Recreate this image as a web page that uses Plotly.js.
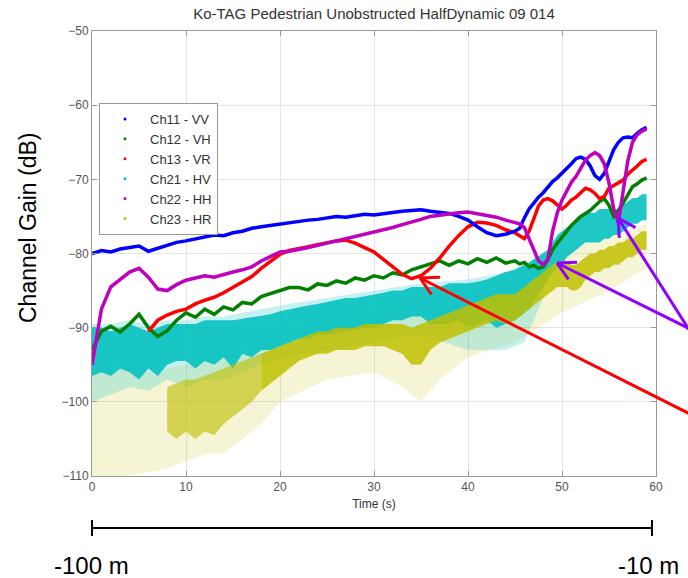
<!DOCTYPE html>
<html>
<head>
<meta charset="utf-8">
<script src="https://cdn.plot.ly/plotly-3.0.1.min.js"></script>
<style>html,body{margin:0;padding:0;background:#fff;}#chart{width:688px;height:578px;}</style>
</head>
<body>
<div id="chart"></div>
<script>
// ---------- data ----------
const chartTitle = 'Ko-TAG Pedestrian Unobstructed HalfDynamic 09 014';
const seriesNames = ['Ch11 - VV','Ch12 - VH','Ch13 - VR','Ch21 - HV','Ch22 - HH','Ch23 - HR'];
const xTicks = [0,10,20,30,40,50,60];
const yTicks = [-110,-100,-90,-80,-70,-60,-50];

const tA = [0,1,2,3,4,5,6,7,8,9,10,11,12,13,14,15,16,17,18,19,20,21,22,23,24,25,26,27,28,29,30,31,32,33,34,35,36,37,38,39,40,41,42,43,44,45,
  45.5,46,46.5,47,47.5,48,48.5,49,49.5,50,50.5,51,51.5,52,52.5,53,53.5,54,54.5,55,55.5,56,56.5,57,57.5,58,58.5,59];

const ch11 = [-80.0,-79.6,-79.8,-79.4,-79.2,-79.0,-79.7,-79.3,-78.8,-78.5,
  -78.3,-78.0,-77.8,-77.5,-77.6,-77.2,-77.0,-76.6,-76.4,-76.2,
  -76.0,-75.8,-75.7,-75.5,-75.4,-75.2,-75.0,-75.1,-74.9,-74.7,
  -74.8,-74.6,-74.4,-74.3,-74.2,-74.1,-74.3,-74.4,-74.6,-75.0,
  -75.5,-76.4,-77.2,-77.6,-77.4,-77.0,
  -76.6,-75.2,-74.0,-73.2,-72.4,-71.8,-71.0,-70.3,-69.8,-69.2,-68.6,-67.9,-67.2,-67.0,-67.3,-68.2,-69.5,-70.0,-69.2,-67.5,-66.0,-65.0,-64.4,-64.3,-64.4,-63.8,-63.3,-63.0];

const ch12 = [-93.0,-90.5,-89.8,-90.6,-89.5,-88.2,-90.0,-91.2,-90.4,-89.0,
  -88.0,-88.6,-87.5,-88.2,-87.2,-87.6,-86.6,-86.8,-85.8,-85.4,
  -85.0,-84.6,-84.6,-84.9,-84.1,-84.3,-83.7,-84.0,-83.3,-83.6,
  -83.0,-83.3,-82.6,-82.9,-82.2,-81.8,-81.3,-81.0,-81.6,-81.0,
  -81.4,-80.7,-81.2,-80.6,-81.3,-81.0,
  -81.4,-81.2,-81.8,-81.6,-82.0,-81.8,-80.8,-79.5,-78.6,-77.8,-77.0,-76.2,-75.6,-75.0,-74.6,-74.2,-73.6,-73.0,-72.6,-73.5,-75.0,-74.2,-73.2,-72.2,-71.0,-70.6,-70.1,-69.8];

const ch13 = [null,null,null,null,null,null,-90.5,-89.0,-88.3,-87.8,
  -87.5,-86.8,-86.3,-85.9,-85.3,-84.6,-83.9,-83.1,-82.0,-81.0,
  -80.1,-79.6,-79.4,-79.1,-78.8,-78.5,-78.3,-78.2,-78.6,-79.2,
  -79.8,-80.8,-81.8,-82.8,-83.4,-83.0,-82.0,-80.6,-79.0,-77.6,
  -76.4,-75.8,-75.9,-76.2,-76.8,-77.2,
  -77.6,-78.0,-77.0,-75.2,-73.6,-72.8,-72.6,-72.9,-73.5,-74.0,-73.5,-72.8,-72.4,-71.8,-71.2,-71.4,-71.9,-72.6,-72.3,-71.2,-70.8,-70.5,-70.1,-69.3,-68.8,-68.2,-67.6,-67.3];

const ch21Hi = [-90,-90,-90.5,-90,-89.5,-90,-90.5,-90,-89.5,-89.5,
  -89.5,-89.5,-89,-89,-89,-89,-88.8,-88.6,-88.4,-88.2,
  -87.8,-87.5,-87.2,-87,-86.8,-86.5,-86.3,-86,-86,-85.8,
  -85.5,-85.3,-85,-85,-84.5,-84.5,-84.5,-84.5,-84,-84,
  -84,-83.8,-83.5,-83,-82.5,-82.2,
  -81.8,-81.5,-81.2,-80.8,-80.4,-80,-79.5,-78.5,-77.5,-77,-76.5,-76,-75.5,-75,-74.5,-74.5,-74.5,-74,-74,-74,-74,-74,-73.5,-73,-72.5,-72.5,-72,-72];
const ch21Lo = [-96.5,-96,-96.5,-95.5,-96,-97,-95.5,-96.5,-95,-94.5,
  -94.5,-95.5,-94.5,-95,-94,-95.5,-93.5,-94,-93,-93,
  -92.5,-92,-91.5,-91.5,-91,-91,-90.8,-90.5,-90.2,-90,
  -90,-89.5,-89,-89,-88.5,-88.5,-89.5,-89.5,-89.5,-89,
  -90,-89.5,-89,-90,-89.5,-89,
  -88.5,-88,-87.5,-86.5,-85.5,-84.5,-83.5,-82.5,-82,-81.5,-80.5,-80,-79.5,-79,-78.5,-78.5,-78.5,-78.5,-78,-78,-77.5,-77.5,-77,-76.5,-76,-76,-75.5,-75.5];
const ch21SparseT  = [0,2,4,6,8,10,12,14,16,18,20,25,30,35,40,44,46,48];
const ch21SparseHi = [-89.5,-89.5,-89,-89.5,-89,-89,-88.5,-88.5,-88,-87.5,-87,-86,-85,-84,-83.5,-82.5,-81.5,-80];
const ch21SparseLo = [-100,-99,-98,-98.5,-97,-98,-97,-97,-96,-95,-94,-93,-92,-91,-93,-93,-92,-86];

const ch22 = [-95.0,-87.5,-84.5,-83.5,-82.5,-82.0,-83.2,-84.8,-85.0,-84.2,
  -83.6,-83.3,-83.0,-83.2,-82.8,-82.5,-82.2,-81.8,-81.0,-80.4,
  -79.8,-79.7,-79.5,-79.2,-78.9,-78.6,-78.4,-78.0,-77.8,-77.4,
  -77.2,-76.8,-76.5,-76.1,-75.8,-75.4,-75.0,-74.8,-74.6,-74.5,
  -74.4,-74.6,-74.9,-75.1,-75.5,-75.8,
  -76.0,-76.5,-78.0,-79.8,-81.0,-81.5,-80.8,-77.0,-74.5,-72.8,-71.6,-70.4,-69.6,-68.5,-67.4,-66.8,-66.4,-66.8,-67.9,-70.5,-74.0,-75.8,-72.0,-67.5,-65.0,-64.0,-63.5,-63.2];

const ch23T = tA.slice(8);
const ch23Hi = [-98,-97.5,
  -97,-97,-96.5,-96,-95.5,-95,-94.5,-94,-93.5,-93,
  -92.5,-92,-91.5,-91,-90.5,-90.5,-90,-90,-90,-89.5,
  -89.5,-89.5,-89.5,-89.5,-90,-89.5,-89,-88.5,-88,-87.5,
  -87,-86.5,-86,-85.5,-85.5,-85.5,
  -85,-84.5,-84,-83.5,-83,-82.5,-82,-81.5,-81,-81,-81,-81.5,-81.5,-81,-80.5,-80,-80,-79.5,-79.5,-79,-79,-78.5,-78.5,-78,-78,-77.5,-77,-77];
const ch23Lo = [-104,-105,
  -104,-105,-104,-104.5,-103,-102,-101,-100,-98.5,-97.5,
  -96.5,-95.5,-94.5,-94,-93.5,-93.5,-93,-93,-93,-92.5,
  -92.5,-92.5,-93,-93.5,-95,-95,-93,-92,-91.5,-91,
  -90.5,-90,-89.5,-89,-89.5,-89,
  -88.5,-88,-87.5,-87,-86.5,-86,-85.5,-85,-84.5,-84.5,-84.5,-85,-85,-84.5,-83.5,-83,-82.5,-82.5,-82,-82,-81.5,-81.5,-81,-80.5,-80.5,-80,-79.5,-79.5];
const ch23SparseT  = [0,2,4,6,8,10,12,14,16,18,20,25,30,33,35,37,40,45,50,55,59];
const ch23SparseHi = [-94,-95,-95.5,-96,-95.5,-95,-94.5,-94,-93,-92,-91,-88.5,-88,-88,-88,-87.5,-86.5,-84,-80,-77.5,-76];
const ch23SparseLo = [-110,-110,-110,-109.5,-109,-108,-107,-107,-105,-103,-100,-97,-96,-98,-100,-97,-94,-92,-88,-85,-82];

// ---------- styling ----------
const COL = {b:'#0000ff', g:'#008000', r:'#ff0000', c:'#00bfbf', m:'#bf00bf', y:'#bfbf00'};
const legendColors = [COL.b, COL.g, COL.r, COL.c, COL.m, COL.y];
const W = 688, H = 578, L = 92, R = 656, T = 31, B = 476;
const px = x => (x - L) / (R - L);
const py = y => (B - y) / (B - T);

function rgba(hex, a) {
  const n = parseInt(hex.slice(1), 16);
  return 'rgba(' + (n >> 16 & 255) + ',' + (n >> 8 & 255) + ',' + (n & 255) + ',' + a + ')';
}
function band(x, hi, lo, color) {
  return [
    {x: x, y: hi, mode: 'lines', line: {width: 0, color: color}, showlegend: false, hoverinfo: 'skip'},
    {x: x, y: lo, mode: 'lines', line: {width: 0, color: color}, fill: 'tonexty', fillcolor: color, showlegend: false, hoverinfo: 'skip'}
  ];
}
function line(x, y, color, w) {
  return {x: x, y: y, mode: 'lines', line: {color: color, width: w}, showlegend: false, hoverinfo: 'skip'};
}

const split = 11; // early, more scattered part of Ch23
const traces = [];
traces.push(...band(ch23SparseT, ch23SparseHi, ch23SparseLo, rgba(COL.y, 0.16)));
traces.push(...band(ch21SparseT, ch21SparseHi, ch21SparseLo, rgba(COL.c, 0.22)));
traces.push(...band(tA, ch21Hi, ch21Lo, rgba(COL.c, 0.88)));
traces.push(...band(ch23T.slice(0, split), ch23Hi.slice(0, split), ch23Lo.slice(0, split), rgba(COL.y, 0.62)));
traces.push(...band(ch23T.slice(split - 1), ch23Hi.slice(split - 1), ch23Lo.slice(split - 1), rgba(COL.y, 0.85)));
traces.push(line(tA, ch12, COL.g, 3.5));
traces.push(line(tA, ch13, COL.r, 3.5));
traces.push(line(tA, ch11, COL.b, 3.5));
traces.push(line(tA, ch22, COL.m, 3.5));
seriesNames.forEach((n, i) => traces.push({
  x: [null], y: [null], mode: 'markers', name: n,
  marker: {color: legendColors[i], size: 3, symbol: 'circle'}
}));

// arrows (open chevron heads)
function arrow(tip, tail, color) {
  const ang = Math.atan2(tail[1] - tip[1], tail[0] - tip[0]);
  const ln = (a, b) => ({type: 'line', xref: 'paper', yref: 'paper', x0: px(a[0]), y0: py(a[1]), x1: px(b[0]), y1: py(b[1]), line: {color: color, width: 3}});
  const s = [ln(tail, tip)];
  [-0.5, 0.5].forEach(d => {
    const a = ang + d;
    s.push(ln(tip, [tip[0] + 20 * Math.cos(a), tip[1] + 20 * Math.sin(a)]));
  });
  return s;
}
const shapes = [
  ...arrow([420, 278], [700, 419], '#ff0000'),
  ...arrow([557, 263], [700, 334], '#8f00ff'),
  ...arrow([618, 218], [695, 339], '#8f00ff'),
  {type: 'line', xref: 'paper', yref: 'paper', x0: px(92), y0: py(528), x1: px(652), y1: py(528), line: {color: '#000', width: 2}},
  {type: 'line', xref: 'paper', yref: 'paper', x0: px(92), y0: py(520), x1: px(92), y1: py(536), line: {color: '#000', width: 2}},
  {type: 'line', xref: 'paper', yref: 'paper', x0: px(652), y0: py(520), x1: px(652), y1: py(536), line: {color: '#000', width: 2}}
];

const annotations = [
  {text: 'Channel Gain (dB)', xref: 'paper', yref: 'paper', x: px(28), y: py(228), showarrow: false, textangle: -90,
   font: {family: 'Arial, Liberation Sans', size: 23, color: '#000'}, xanchor: 'center', yanchor: 'middle'},
  {text: '-100 m', xref: 'paper', yref: 'paper', x: px(91), y: py(565), showarrow: false,
   font: {family: 'Arial, Liberation Sans', size: 24, color: '#000'}, xanchor: 'center', yanchor: 'middle'},
  {text: '-10 m', xref: 'paper', yref: 'paper', x: px(648), y: py(565), showarrow: false,
   font: {family: 'Arial, Liberation Sans', size: 24, color: '#000'}, xanchor: 'center', yanchor: 'middle'}
];

const axisCommon = {
  ticks: 'inside', ticklen: 5, tickcolor: '#999', showline: true, linecolor: '#999', linewidth: 1,
  mirror: 'ticks', showgrid: true, gridcolor: '#e4e4e4', zeroline: false,
  tickfont: {family: 'Arial, Liberation Sans', size: 12, color: '#555'}
};

const layout = {
  width: W, height: H, margin: {l: L, r: W - R, t: T, b: H - B},
  paper_bgcolor: '#fff', plot_bgcolor: '#fff',
  title: {text: chartTitle, font: {family: 'Arial, Liberation Sans', size: 15, color: '#333'},
          xref: 'paper', x: 0.5, xanchor: 'center', yref: 'container', y: 1 - 14 / H, yanchor: 'middle'},
  xaxis: Object.assign({}, axisCommon, {range: [0, 60], tickvals: xTicks,
          title: {text: 'Time (s)', font: {family: 'Arial, Liberation Sans', size: 12, color: '#333'}, standoff: 6}}),
  yaxis: Object.assign({}, axisCommon, {range: [-110, -50], tickvals: yTicks}),
  showlegend: true,
  legend: {x: px(99), y: py(103), xanchor: 'left', yanchor: 'top', bgcolor: '#fff', bordercolor: '#999', borderwidth: 1,
           traceorder: 'normal',
           font: {family: 'Arial, Liberation Sans', size: 13, color: '#333'}, itemwidth: 40, tracegroupgap: 0},
  shapes: shapes, annotations: annotations
};

Plotly.newPlot('chart', traces, layout, {staticPlot: true, displayModeBar: false});
</script>
</body>
</html>
